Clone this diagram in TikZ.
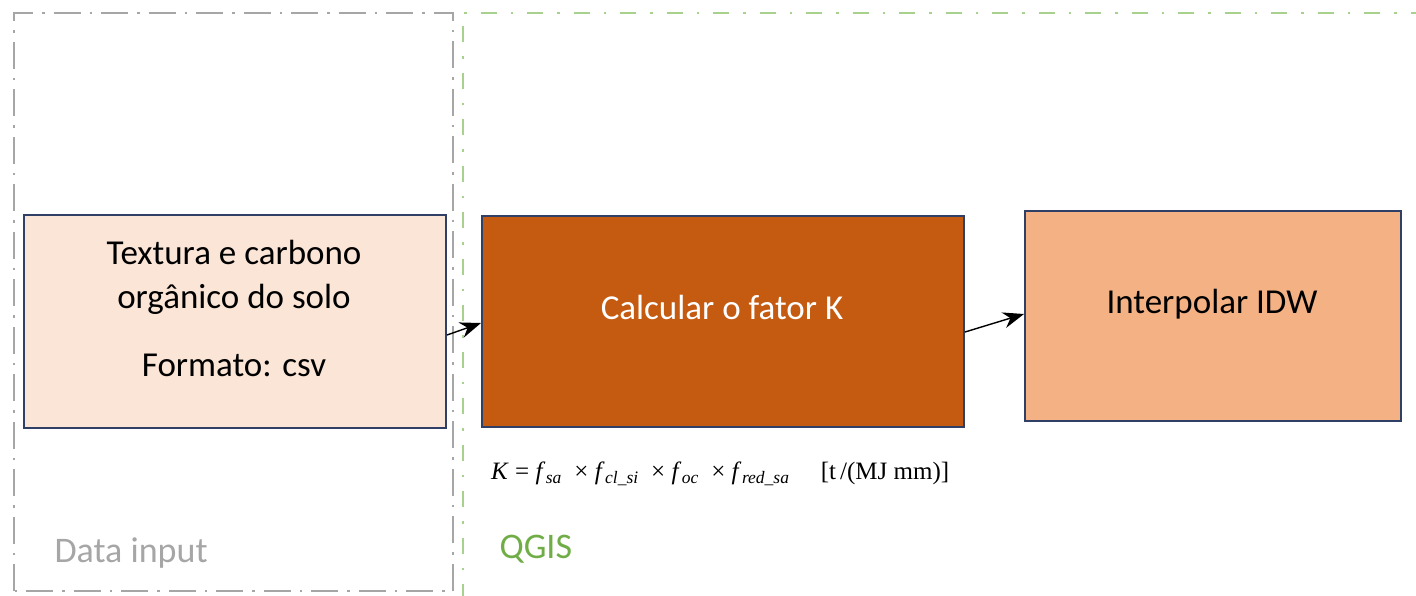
\documentclass[tikz,border=0pt]{standalone}
\usepackage{fontspec}
\setmainfont{Carlito}
\newfontfamily\formulafont{Liberation Serif}
\usetikzlibrary{arrows.meta}
\definecolor{boxline}{HTML}{2F3F66}
\definecolor{peach}{HTML}{FBE5D6}
\definecolor{rust}{HTML}{C55A11}
\definecolor{salmon}{HTML}{F4B183}
\definecolor{framegray}{HTML}{A6A6A6}
\definecolor{framegreen}{HTML}{A9D18E}
\definecolor{labelgreen}{HTML}{70AD47}
\newcommand{\fsub}[1]{\textit{f}\kern0.5pt\textsubscript{\textit{#1}}}
\tikzset{
  procbox/.style={draw=boxline, line width=2pt, inner sep=0pt, anchor=north west},
  boxtext/.style={align=center, font=\fontsize{35}{44}\selectfont, inner sep=0pt},
  grouplabel/.style={anchor=west, font=\fontsize{36}{40}\selectfont},
  grayframe/.style={draw=framegray, line width=2.6pt,
    dash pattern=on 27pt off 9pt on 2.5pt off 9pt},
  greenframe/.style={draw=framegreen, line width=2.4pt,
    dash pattern=on 16pt off 14pt on 2.5pt off 14pt},
  flow/.style={-{Stealth[length=21pt,width=16pt]}, line width=1.4pt, black},
}
\begin{document}
\begin{tikzpicture}[x=1pt,y=-1pt]
  \useasboundingbox (0,0) rectangle (1416,595);
  % group frames
  \draw[grayframe] (14,591) -- (14,13) -- (453,13) -- (453,591) -- cycle;
  \draw[greenframe] (463,600) -- (463,13) -- (1420,13);
  % process boxes
  \node[procbox, fill=peach, minimum width=422pt, minimum height=213pt] (data) at (23,214) {};
  \node[procbox, fill=rust, minimum width=482pt, minimum height=211pt] (calc) at (481,215) {};
  \node[procbox, fill=salmon, minimum width=376pt, minimum height=210pt] (idw) at (1024,210) {};
  % box texts
  \node[boxtext, anchor=north] (datatxt) at (234,240)
    {Textura e carbono\\orgânico do solo\\[24pt]Formato: csv};
  \node[boxtext, text=white] (calctxt) at (722,307) {Calcular o fator K};
  \node[boxtext] (idwtxt) at (1212,304) {Interpolar IDW};
  % connectors
  \draw[flow] (data.east |- 0,335) -- (calc.west |- 0,323);
  \draw[flow] (calc.east |- 0,332) -- (idw.west |- 0,314);
  % formula and group labels
  \node[anchor=west, inner sep=0pt, font=\formulafont\fontsize{25}{28}\selectfont] (formula) at (491,474)
    {\textit{K} = \fsub{sa}\ \ × \fsub{cl\_si}\ \ × \fsub{oc}\ \ × \fsub{red\_sa}\quad\ [t\,/(MJ mm)]};
  \node[grouplabel, text=framegray] (lbldata) at (51,553) {Data input};
  \node[grouplabel, text=labelgreen] (lblqgis) at (496,549) {QGIS};
\end{tikzpicture}
\end{document}
